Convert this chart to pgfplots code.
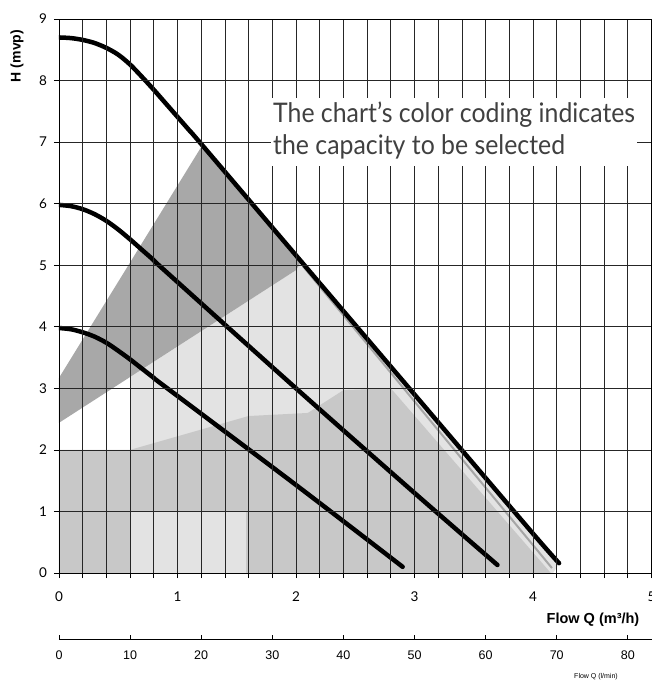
\documentclass[border=0pt]{standalone}
\usepackage{fontspec}
\setmainfont{Lato}
\newfontfamily\arialf{Liberation Sans}
\newfontfamily\annotf{Lato}
\usepackage{graphicx}
\usepackage{pgfplots}
\pgfplotsset{compat=1.18}
\definecolor{darkfill}{HTML}{A8A8A8}
\definecolor{medfill}{HTML}{C8C8C8}
\definecolor{lightfill}{HTML}{E3E3E3}
\begin{document}
\begin{tikzpicture}
\begin{axis}[
  at={(0,0)}, anchor=south west,
  scale only axis, width=592.5pt, height=554pt,
  xmin=0, xmax=5, ymin=0, ymax=9,
  xtick={0,...,5}, ytick={0,...,9},
  minor x tick num=4,
  grid=both,
  major grid style={black!85, line width=0.7pt},
  minor grid style={black!85, line width=0.7pt},
  axis line style={black, line width=0.8pt},
  tick align=outside, xtick pos=left, ytick pos=left,
  major tick length=5pt, minor tick length=5pt,
  every tick/.style={black, line width=0.7pt},
  axis on top,
  /pgf/number format/assume math mode=true,
  ticklabel style={font=\fontsize{13.5}{13.5}\selectfont},
  xticklabel style={yshift=-10pt},
  yticklabel style={xshift=-3.5pt},
]
% light region
\addplot[draw=none, fill=lightfill] coordinates {
 (0.6,0) (0.6,3.18) (2.0,4.92) (2.03,5.1) (2.5,4.04) (3.0,2.91) (3.5,1.78) (4.0,0.65) (4.22,0.15) (4.17,0)
} -- cycle;
% medium region
\addplot[draw=none, fill=medfill] coordinates {
 (0,0) (0.6,0) (0.6,1.0) (1.58,1.0) (1.58,0) (4.15,0) (2.8,3.0) (2.4,2.97) (2.1,2.6) (1.6,2.55) (0.6,2.0) (0,2.0)
} -- cycle;
% dark wedge
\addplot[draw=none, fill=darkfill] coordinates {
 (0,2.44) (0,3.17) (1.2,6.92) (1.5,6.3) (2.0,5.15) (2.04,5.05) (2.0,4.92)
} -- cycle;
% gray band under top curve
\addplot[gray!70, line width=2pt] coordinates {(2.06,4.98) (4.16,0.08)};
% pump curves
\addplot[black, line width=4.5pt, line cap=round, smooth] coordinates {
 (0,8.70) (0.1,8.69) (0.2,8.66) (0.3,8.61) (0.4,8.53) (0.5,8.42) (0.6,8.26) (0.7,8.06) (0.8,7.85) (0.9,7.63) (1.0,7.41) (1.1,7.19) (1.2,6.97) (2.0,5.16) (3.0,2.90) (4.0,0.64) (4.22,0.16)
};
\addplot[black, line width=4.5pt, line cap=round, smooth] coordinates {
 (0,5.98) (0.1,5.96) (0.2,5.91) (0.3,5.83) (0.4,5.72) (0.5,5.58) (0.6,5.42) (0.7,5.25) (0.8,5.08) (0.9,4.90) (2.0,3.0) (3.0,1.3) (3.7,0.13)
};
\addplot[black, line width=4.5pt, line cap=round, smooth] coordinates {
 (0,3.98) (0.1,3.96) (0.2,3.91) (0.3,3.84) (0.4,3.74) (0.5,3.61) (0.6,3.47) (0.7,3.32) (0.8,3.17) (0.9,3.02) (2.0,1.43) (2.9,0.1)
};
\end{axis}
\begin{axis}[
  at={(0,-66pt)}, anchor=south west,
  scale only axis, width=592.5pt, height=10pt,
  xmin=0, xmax=83.3333, ymin=0, ymax=1,
  axis x line*=bottom, axis y line=none,
  x axis line style={-, line width=0.8pt},
  xtick={0,10,...,80},
  tick align=inside, major tick length=4pt,
  every tick/.style={black, line width=0.7pt},
  /pgf/number format/assume math mode=true,
  xticklabel style={font=\arialf\fontsize{12.5}{12.5}\selectfont, yshift=-8pt},
]
\addplot[draw=none] coordinates {(0,0) (1,1)};
\end{axis}
\node[anchor=north west, fill=white, inner xsep=2pt, inner ysep=2pt,
  font=\annotf\fontsize{27}{32}\selectfont, text=black!75] at (212pt,475pt)
  {\scalebox{0.92}[1]{\begin{tabular}{@{}l@{}}The chart’s color coding indicates\\the capacity to be selected\end{tabular}}\hspace{8pt}};
\node[rotate=90, font=\arialf\bfseries\fontsize{14}{14}\selectfont] at (-42pt,517pt) {H (mvp)};
\node[font=\arialf\bfseries\fontsize{14.5}{14.5}\selectfont] at (534pt,-47pt) {Flow Q (m³/h)};
\node[font=\arialf\fontsize{7}{7}\selectfont] at (537pt,-104pt) {Flow Q (l/min)};
\pgfresetboundingbox
\path[use as bounding box] (-59pt,-107pt) rectangle (592.5pt,573pt);
\end{tikzpicture}
\end{document}
